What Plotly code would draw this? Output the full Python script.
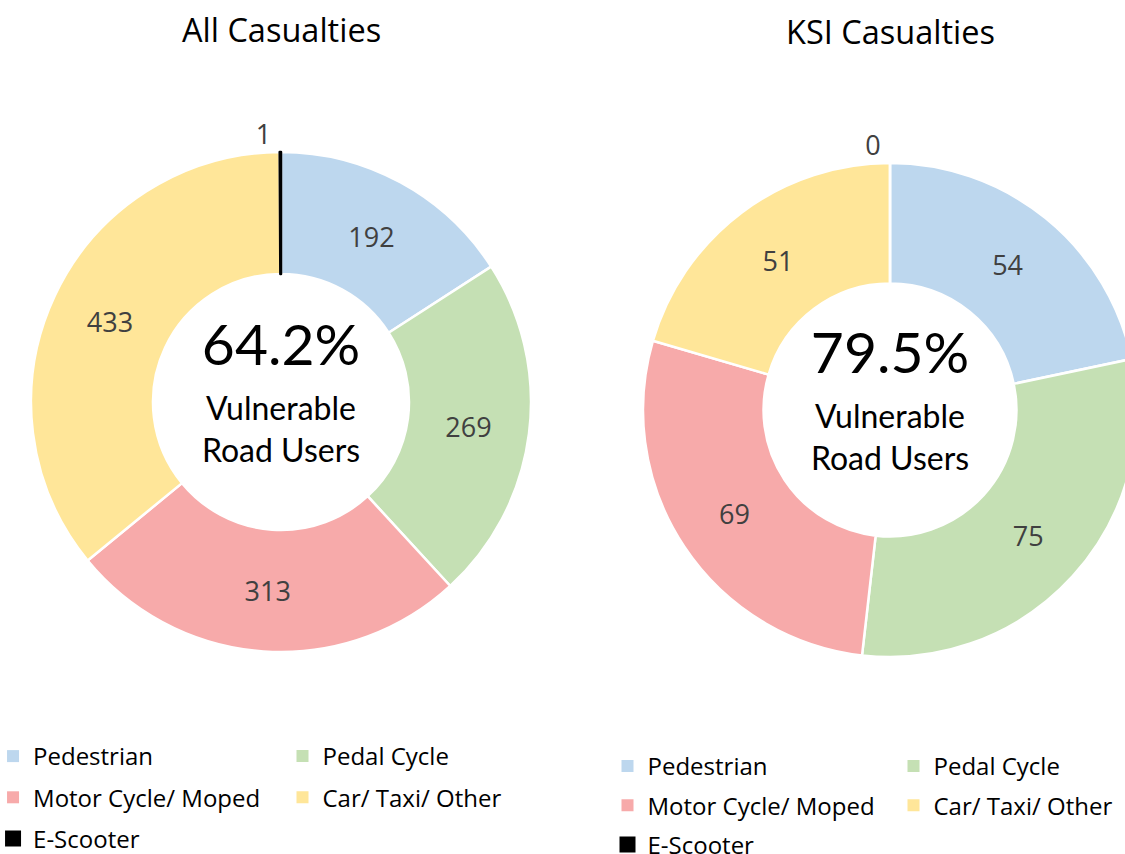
import plotly.graph_objects as go

# ---- data ----
categories = ["Pedestrian", "Pedal Cycle", "Motor Cycle/ Moped", "Car/ Taxi/ Other", "E-Scooter"]
all_values = [192, 269, 313, 433, 1]
ksi_values = [54, 75, 69, 51, 0]
vulnerable = ["Pedestrian", "Pedal Cycle", "Motor Cycle/ Moped", "E-Scooter"]
chart_titles = ["All Casualties", "KSI Casualties"]
colors = ["#BDD7EE", "#C5E0B4", "#F7AAAA", "#FFE699", "#000000"]

# ---- layout helpers (figure wider than the window; right donut is cropped) ----
W, H = 1160, 854


def px(x):
    return x / W


def py(y):
    return 1 - y / H


def vru_share(vals):
    tot = sum(vals)
    v = sum(val for c, val in zip(categories, vals) if c in vulnerable)
    return 100.0 * v / tot


def center_text(vals):
    pad_top = "<span style='font-size:1px'>&nbsp;</span><br>"
    pad_bottom = "<br><span style='font-size:1px'>&nbsp;</span>"
    return (pad_top
            + f"<sup><span style='font-size:57px'>{vru_share(vals):.1f}%</span></sup>"
            + "<br>Vulnerable<br>Road Users" + pad_bottom)


def donut(vals, cx, cy, r, line_colors):
    return go.Pie(
        labels=categories,
        values=vals,
        sort=False,
        direction="clockwise",
        rotation=0,
        hole=0.512,
        marker=dict(colors=colors, line=dict(color=line_colors, width=2.5)),
        textinfo="value",
        textposition=["inside", "inside", "inside", "inside", "outside"],
        insidetextorientation="horizontal",
        textfont=dict(family="Open Sans", size=27, color="#404040"),
        insidetextfont=dict(family="Open Sans", size=27, color="#404040"),
        outsidetextfont=dict(family="Open Sans", size=27, color="#404040"),
        domain=dict(x=[px(cx - r), px(cx + r)], y=[py(cy + r), py(cy - r)]),
        title=dict(text=center_text(vals), position="middle center",
                   font=dict(family="Lato", size=32, color="black")),
        showlegend=False,
        hoverinfo="label+value",
    )


fig = go.Figure()
fig.add_trace(donut(all_values, 281, 402, 250, ["white"] * 4 + ["black"]))
fig.add_trace(donut(ksi_values, 890, 410, 247, ["white"] * 5))

# legend entries (two columns per chart)
col_a = [0, 2, 4]
col_b = [1, 3]
legend_sets = [("legend", "legend2"), ("legend3", "legend4")]
for k, (la, lb) in enumerate(legend_sets):
    for lid, idxs in ((la, col_a), (lb, col_b)):
        for i in idxs:
            fig.add_trace(go.Scatter(
                x=[None], y=[None], mode="markers",
                marker=dict(symbol="square", size=16 if categories[i] == "E-Scooter" else 12,
                            color=colors[i]),
                name=categories[i], legend=lid, legendgroup=f"g{k}_{i}",
                showlegend=True, hoverinfo="skip",
            ))

leg_font = dict(family="Open Sans", size=24, color="black")
common = dict(orientation="v", xanchor="left", yanchor="top", font=leg_font,
              bgcolor="rgba(0,0,0,0)", itemclick=False, itemdoubleclick=False)

fig.update_layout(
    width=W, height=H, autosize=False,
    margin=dict(l=0, r=0, t=0, b=0, autoexpand=False),
    paper_bgcolor="white", plot_bgcolor="white",
    xaxis=dict(visible=False), yaxis=dict(visible=False),
    legend=dict(x=-0.006, y=py(734), tracegroupgap=7, **common),
    legend2=dict(x=px(282.5), y=py(734), tracegroupgap=7, **common),
    legend3=dict(x=px(607.5), y=py(744), tracegroupgap=5, **common),
    legend4=dict(x=px(893.5), y=py(744), tracegroupgap=5, **common),
    annotations=[
        dict(text=chart_titles[0], x=px(281), y=py(29), xref="paper", yref="paper",
             xanchor="center", yanchor="middle", showarrow=False,
             font=dict(family="Open Sans", size=32.5, color="black")),
        dict(text=chart_titles[1], x=px(890), y=py(31.5), xref="paper", yref="paper",
             xanchor="center", yanchor="middle", showarrow=False,
             font=dict(family="Open Sans", size=32.5, color="black")),
    ],
)

fig.write_html(
    "out.html",
    config={"displayModeBar": False},
    post_script="document.body.style.margin='0';document.body.style.overflow='hidden';"
                "document.documentElement.style.overflow='hidden';",
)
